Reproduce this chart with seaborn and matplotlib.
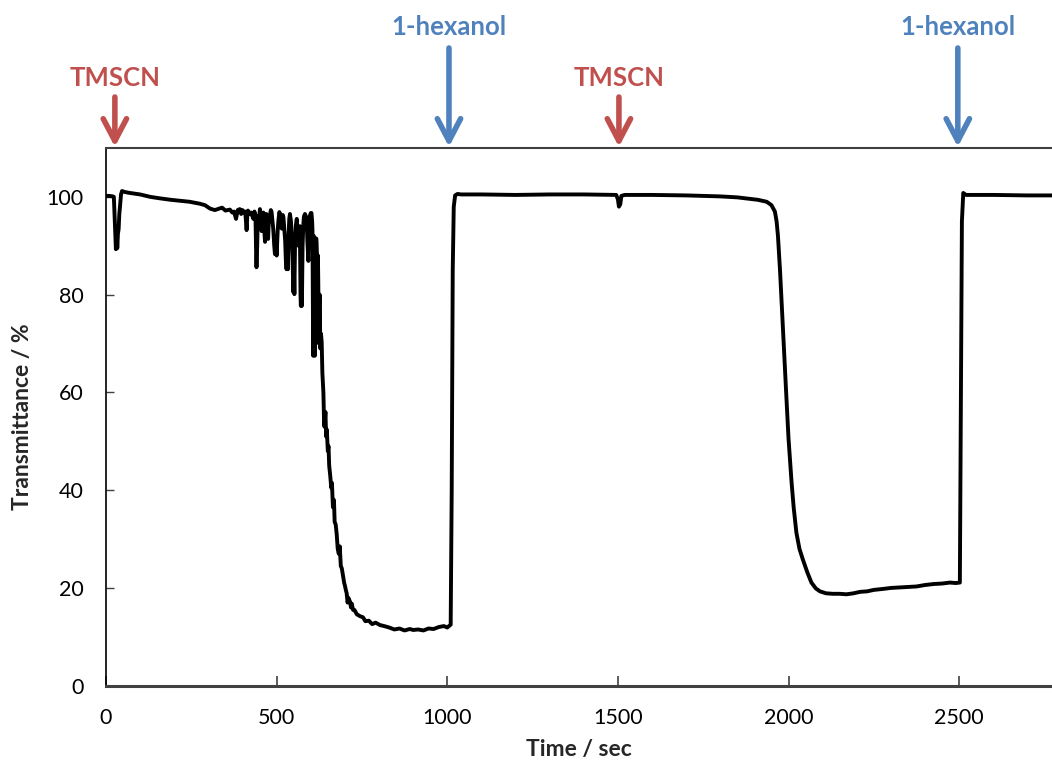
import matplotlib
matplotlib.use("Agg")
import matplotlib.pyplot as plt
import seaborn as sns
import pandas as pd

# ---- data, in segments ----
# start, first TMSCN dip and slow decline
t_start = [0, 10, 20, 23, 25, 27, 29, 31, 33, 35, 37, 39, 41, 44, 47, 55, 70, 100, 130, 158, 190, 217, 245, 275,
           290, 305, 319, 340, 350, 363, 370, 375, 381, 386, 392, 396, 400, 404, 408, 410, 412, 414, 416, 420]
y_start = [100.2, 100.2, 100.1, 100.0, 96.5, 93.0, 89.3, 94.0, 89.5, 92.5, 93.4, 96.5, 98.0, 100.5, 101.2, 101.0, 100.8, 100.5, 100.0, 99.7, 99.4, 99.2, 99.0, 98.6,
           98.3, 97.6, 97.3, 97.8, 97.2, 97.4, 96.8, 97.0, 95.5, 97.3, 97.5, 96.5, 97.3, 96.8, 97.0, 95.0, 93.2, 96.0, 97.2, 96.5]

# noisy region before the big drop
t_noisy = [425, 428, 432, 435, 438, 440, 441, 443, 445, 448, 451, 453, 456, 458, 461, 463, 466, 468, 470, 473,
           475, 477, 480, 483, 485, 488, 490, 493, 495, 498, 500, 503, 505, 508, 510, 513, 515, 518, 520, 523,
           525, 527, 529, 531, 533, 535, 537, 539, 542, 544, 546, 549, 551, 552, 554, 556, 559, 561, 564, 566,
           568, 570, 571, 573, 574, 576, 578, 580, 583, 586, 588, 590, 593, 595, 597, 600, 602, 604, 605, 606,
           607, 608, 609, 611, 612, 613, 614, 616, 617, 619, 620, 621, 622, 623, 624, 625, 626, 627, 628, 630]
y_noisy = [96.8, 96.2, 95.5, 97.0, 96.0, 88.0, 85.6, 90.0, 96.0, 95.0, 97.5, 96.0, 93.0, 96.5, 96.8, 94.0, 90.8, 95.5, 96.5, 93.0,
           91.4, 95.0, 96.0, 97.3, 97.0, 95.0, 93.5, 90.0, 88.3, 91.0, 88.0, 93.0, 95.0, 96.9, 96.5, 94.0, 93.5, 96.3, 95.8, 93.0,
           91.0, 87.0, 85.2, 88.0, 85.2, 92.0, 95.5, 96.5, 95.0, 92.0, 89.0, 80.5, 84.0, 80.1, 91.0, 94.0, 95.5, 93.0, 90.0, 93.5,
           94.0, 80.0, 77.7, 84.0, 77.7, 90.0, 94.0, 96.0, 96.5, 96.0, 95.5, 91.0, 86.9, 93.0, 96.0, 96.7, 96.7, 95.0, 93.0, 80.0,
           67.5, 85.0, 92.0, 80.0, 67.5, 75.0, 90.0, 91.5, 90.8, 86.0, 85.0, 88.0, 82.6, 75.0, 70.0, 78.0, 80.0, 74.0, 69.0, 72.0]

# first drop and low plateau
t_drop1 = [632, 634, 637, 639, 640, 643, 645, 647, 650, 652, 654, 657, 660, 662, 665, 668, 670, 673, 676, 679,
           682, 685, 688, 691, 695, 698, 700, 703, 705, 708, 710, 713, 715, 718, 720, 724, 728, 735, 745, 753,
           760, 770, 780, 790, 803, 815, 830, 845, 860, 875, 890, 900, 915, 930, 945, 960, 975, 990, 1000, 1005, 1010]
y_drop1 = [70.3, 64.0, 60.0, 54.0, 53.0, 56.0, 51.0, 52.4, 48.0, 49.0, 45.0, 43.0, 40.5, 41.5, 36.5, 38.0, 33.5, 33.0, 31.0, 28.0,
           27.0, 28.5, 24.5, 24.0, 22.3, 21.0, 20.5, 19.5, 19.0, 17.0, 18.0, 17.5, 17.2, 16.0, 16.8, 15.5, 15.5, 14.6, 14.2, 14.0,
           13.2, 13.3, 12.6, 12.9, 12.4, 12.2, 11.9, 11.5, 11.7, 11.3, 11.6, 11.4, 11.5, 11.3, 11.7, 11.6, 12.0, 12.2, 11.9, 12.2, 12.5]

# recovery, second TMSCN, second drop, recovery
t_rest = [1013, 1016, 1019, 1023, 1030, 1040, 1100, 1200, 1300, 1400, 1495, 1500, 1503, 1507, 1510, 1520, 1600, 1700,
          1800, 1850, 1887, 1910, 1936, 1950, 1960, 1965, 1969, 1975, 1980, 1985, 1990, 1994, 2000, 2005, 2009, 2015,
          2023, 2032, 2042, 2055, 2067, 2080, 2092, 2110, 2130, 2150, 2170, 2190, 2210, 2230, 2250, 2277, 2300, 2325,
          2350, 2375, 2400, 2425, 2450, 2473, 2490, 2502, 2505, 2508, 2512, 2520, 2600, 2700, 2772]
y_rest = [40.0, 85.0, 98.0, 100.3, 100.6, 100.5, 100.5, 100.4, 100.5, 100.5, 100.4, 99.5, 98.0, 98.5, 100.2, 100.4, 100.4, 100.3,
          100.1, 99.9, 99.6, 99.4, 99.0, 98.3, 97.0, 95.0, 92.0, 85.0, 78.0, 71.0, 64.0, 58.6, 50.5, 45.5, 41.5, 36.5,
          31.3, 28.0, 25.8, 23.2, 21.1, 19.9, 19.3, 18.9, 18.8, 18.8, 18.7, 18.9, 19.2, 19.3, 19.6, 19.8, 20.0, 20.1,
          20.2, 20.3, 20.6, 20.8, 20.9, 21.1, 21.0, 21.1, 60.0, 95.0, 100.8, 100.4, 100.4, 100.3, 100.3]

time_sec = t_start + t_noisy + t_drop1 + t_rest
transmittance = y_start + y_noisy + y_drop1 + y_rest

event_labels = ["TMSCN", "1-hexanol", "TMSCN", "1-hexanol"]
event_times = [26, 1005, 1503, 2496]

x_ticks = [0, 500, 1000, 1500, 2000, 2500]
y_ticks = [0, 20, 40, 60, 80, 100]

df = pd.DataFrame({"Time": time_sec, "T": transmittance})

sns.set_theme(style="ticks")
plt.rcParams["font.family"] = ["Lato", "DejaVu Sans"]

RED = "#C0504D"
BLUE = "#4F81BD"
event_colors = {"TMSCN": RED, "1-hexanol": BLUE}

fig = plt.figure(figsize=(10.52, 7.69), dpi=100)
ax = fig.add_axes([106 / 1052, 1 - 685.7 / 769, (1052 - 106) / 1052, (685.7 - 148) / 769])

sns.lineplot(data=df, x="Time", y="T", ax=ax, color="black", linewidth=2.8,
             estimator=None, sort=False)

ax.set_xlim(0, 2772)
ax.set_ylim(0, 110)
ax.set_xticks(x_ticks)
ax.set_yticks(y_ticks)
ax.tick_params(axis="both", direction="in", labelsize=15.5, colors="black", pad=16)
ax.tick_params(axis="x", length=7, width=1.2, color="#404040")
ax.tick_params(axis="y", length=6, width=1.0, color="#404040")

ax.set_xlabel("Time / sec", fontsize=16.5, fontweight="bold", labelpad=8)
ax.set_ylabel("Transmittance / %", fontsize=16.5, fontweight="bold", labelpad=10)

ax.spines["right"].set_visible(False)
ax.spines["top"].set_color("#404040")
ax.spines["top"].set_linewidth(1.5)
ax.spines["bottom"].set_color("#404040")
ax.spines["bottom"].set_linewidth(2.2)
ax.spines["left"].set_color("black")
ax.spines["left"].set_linewidth(1.2)

for lab, t in zip(event_labels, event_times):
    c = event_colors[lab]
    if lab == "TMSCN":
        tail, ytxt = 1.0948, 1.130
    else:
        tail, ytxt = 1.186, 1.225
    ax.annotate("", xy=(t, 1.002), xycoords=("data", "axes fraction"),
                xytext=(t, tail), textcoords=("data", "axes fraction"),
                arrowprops=dict(arrowstyle="->,head_length=0.8,head_width=0.42",
                                color=c, lw=4, mutation_scale=20, shrinkA=0, shrinkB=0),
                annotation_clip=False)
    ax.text(t, ytxt, lab, transform=ax.get_xaxis_transform(), ha="center", va="center",
            color=c, fontsize=18.5, fontweight="bold", clip_on=False)

fig.savefig("out.png", dpi=100)
